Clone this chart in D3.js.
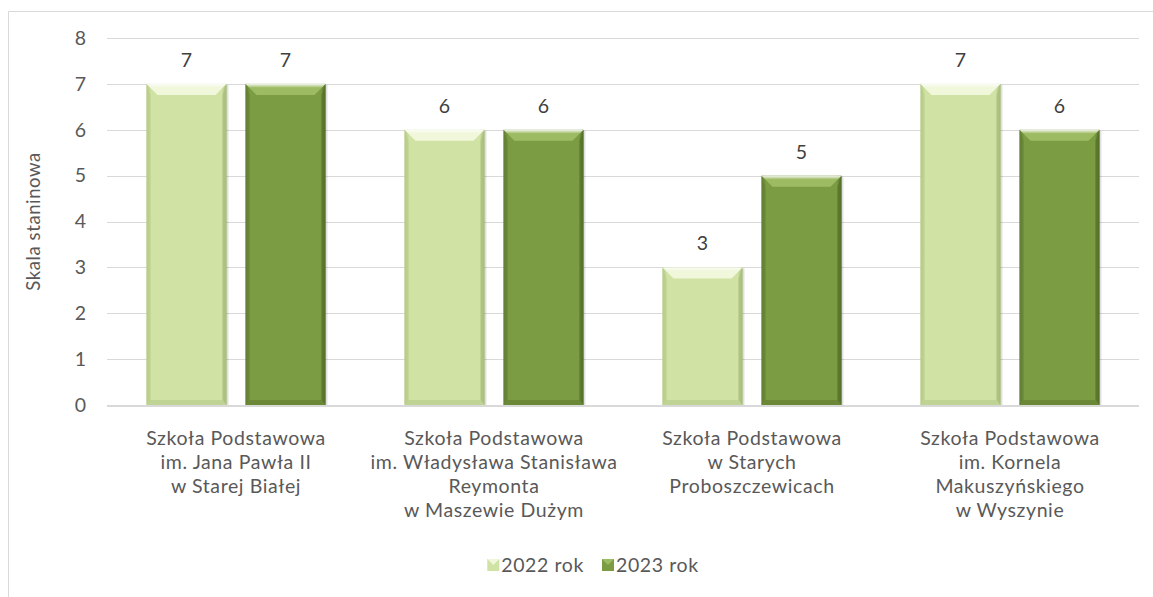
<!DOCTYPE html>
<html><head><meta charset="utf-8">
<script src="https://cdn.jsdelivr.net/npm/d3@7"></script>
<style>
body{margin:0;background:#fff;}
svg{font-family:Lato,"Open Sans",sans-serif;}
</style></head><body>
<svg id="c" width="1153" height="597"></svg>
<script>
const categories = [
  ["Szkoła Podstawowa","im. Jana Pawła II","w Starej Białej"],
  ["Szkoła Podstawowa","im. Władysława Stanisława","Reymonta","w Maszewie Dużym"],
  ["Szkoła Podstawowa","w Starych","Proboszczewicach"],
  ["Szkoła Podstawowa","im. Kornela","Makuszyńskiego","w Wyszynie"]
];
const seriesNames = ["2022 rok","2023 rok"];
const values2022 = [7,6,3,7];
const values2023 = [7,6,5,6];
const yTicks = [0,1,2,3,4,5,6,7,8];

const svg = d3.select("#c");
const W=1153,H=597;
const m={l:107,r:14,t:38,b:192};
const FS=19.5, LS="0.6px";
const x0 = d3.scaleBand().domain(d3.range(categories.length)).range([m.l, W-m.r]).paddingInner(0).paddingOuter(0);
const y = d3.scaleLinear().domain([0,8]).range([H-m.b, m.t]);
const series=[values2022, values2023];
const colors=[
 {base:"#d0e2a4", top:"#f0f7da", side:"#b7cc88", bot:"#bfd494", dark:"#a8bd7a"},
 {base:"#7b9c42", top:"#9dbb62", side:"#637f33", bot:"#6a8836", dark:"#55702a"}
];

svg.append("path").attr("d",`M8.5,597 L8.5,11.5 L1153,11.5`).attr("fill","none").attr("stroke","#d9d9d9").attr("stroke-width",1);

svg.append("g").selectAll("line").data(yTicks.filter(d=>d>0)).join("line")
 .attr("x1",m.l).attr("x2",W-m.r).attr("y1",d=>Math.round(y(d))+0.5).attr("y2",d=>Math.round(y(d))+0.5)
 .attr("stroke","#d9d9d9");

const yAxis = d3.axisLeft(y).tickValues(yTicks).tickSize(0).tickPadding(0);
const ga = svg.append("g").attr("transform",`translate(${m.l-21},0)`).call(yAxis);
ga.select(".domain").remove();
ga.selectAll("text").attr("font-size",FS).attr("fill","#595959").attr("font-family","Lato,sans-serif");

svg.append("text").attr("transform",`translate(40,${(y(0)+y(8))/2}) rotate(-90)`)
 .attr("text-anchor","middle").attr("font-size",FS-1).attr("letter-spacing",LS).attr("fill","#595959").text("Skala staninowa");

const defs=svg.append("defs");
colors.forEach((c,i)=>{
  const s=defs.append("linearGradient").attr("id","s"+i).attr("x1",0).attr("x2",1).attr("y1",0).attr("y2",0);
  s.append("stop").attr("offset","0").attr("stop-color",c.side);
  s.append("stop").attr("offset","0.06").attr("stop-color",c.base);
  s.append("stop").attr("offset","0.94").attr("stop-color",c.base);
  s.append("stop").attr("offset","1").attr("stop-color",c.dark);
  const t=defs.append("linearGradient").attr("id","t"+i).attr("x1",0).attr("x2",0).attr("y1",0).attr("y2",1);
  t.append("stop").attr("offset","0").attr("stop-color","#ffffff").attr("stop-opacity",0.9);
  t.append("stop").attr("offset","0.35").attr("stop-color",c.top);
  t.append("stop").attr("offset","1").attr("stop-color",c.top);
});

const barW=80, gap=19;
const barX=(ci,si)=> x0(ci)+x0.bandwidth()/2 - (barW*2+gap)/2 + si*(barW+gap);

series.forEach((vals,si)=>{
  const g=svg.append("g");
  vals.forEach((v,ci)=>{
    const bx=barX(ci,si), by=y(v), bh=y(0)-y(v), bw=barW;
    const c=colors[si];
    g.append("rect").attr("x",bx+1).attr("y",by+1).attr("width",bw+1).attr("height",bh).attr("fill","#000").attr("opacity",0.12);
    g.append("rect").attr("x",bx).attr("y",by).attr("width",bw).attr("height",bh).attr("fill",`url(#s${si})`);
    const bv=11;
    g.append("path").attr("d",`M${bx},${by} L${bx+bw},${by} L${bx+bw-bv},${by+bv} L${bx+bv},${by+bv} Z`).attr("fill",`url(#t${si})`);
    g.append("path").attr("d",`M${bx},${by} L${bx+4},${by+bv} L${bx+4},${by+bh-4} L${bx},${by+bh} Z`).attr("fill",c.side).attr("opacity",0.6);
    g.append("path").attr("d",`M${bx+bw},${by} L${bx+bw-4},${by+bv} L${bx+bw-4},${by+bh-4} L${bx+bw},${by+bh} Z`).attr("fill",c.dark).attr("opacity",0.7);
    g.append("path").attr("d",`M${bx},${by+bh} L${bx+4},${by+bh-5} L${bx+bw-4},${by+bh-5} L${bx+bw},${by+bh} Z`).attr("fill",c.bot);
    svg.append("text").attr("x",bx+bw/2).attr("y",by-17).attr("text-anchor","middle")
      .attr("font-size",FS).attr("fill","#404040").text(v);
  });
});

svg.append("line").attr("x1",m.l).attr("x2",W-m.r).attr("y1",y(0)+1).attr("y2",y(0)+1).attr("stroke","#d9d9d9").attr("stroke-width",2);

categories.forEach((lines,ci)=>{
  const t=svg.append("text").attr("text-anchor","middle").attr("font-size",FS).attr("letter-spacing",LS).attr("fill","#595959");
  lines.forEach((l,li)=>{
    t.append("tspan").attr("x",x0(ci)+x0.bandwidth()/2).attr("y",445+li*24).text(l);
  });
});

const legG=svg.append("g");
let lx=0;
seriesNames.forEach((n,i)=>{
  const c=colors[i];
  const sx=lx, sy=559;
  legG.append("rect").attr("x",sx).attr("y",sy).attr("width",12).attr("height",12).attr("fill",c.base);
  legG.append("path").attr("d",`M${sx},${sy} L${sx+12},${sy} L${sx+6},${sy+6} Z`).attr("fill",c.top);
  const tt=legG.append("text").attr("x",sx+14).attr("y",sy+13).attr("font-size",FS).attr("letter-spacing",LS).attr("fill","#595959").text(n);
  lx = sx+14+tt.node().getComputedTextLength()+(i===0?18:0);
});
legG.attr("transform",`translate(${593-lx/2},0)`);
</script></body></html>
